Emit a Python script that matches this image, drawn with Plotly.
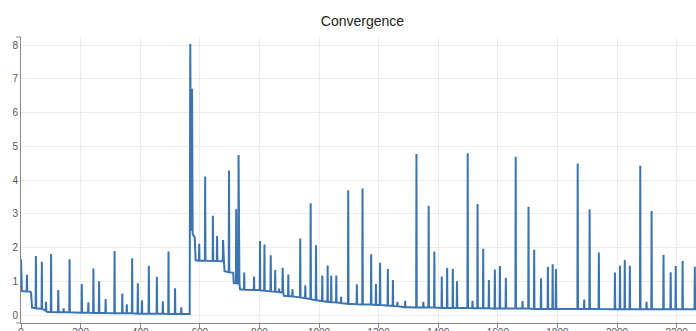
import plotly.graph_objects as go

# Slowly decaying baseline of the loss curve (knots joined by straight segments)
baseline_x = [0, 3, 32, 34, 37, 60, 78, 88, 200, 400, 566,
              568, 571, 574, 576, 583, 586, 676, 681, 683, 712, 714, 728, 733, 735,
              800, 876, 880, 882, 960, 1004, 1070, 1100, 1200, 1252, 1300, 1480,
              1600, 1800, 2270]
baseline_y = [1.65, 0.71, 0.69, 0.64, 0.22, 0.19, 0.15, 0.09, 0.07, 0.04, 0.03,
              8.03, 2.50, 6.70, 2.40, 2.30, 1.62, 1.59, 1.58, 1.30, 1.25, 0.95, 0.93, 0.92, 0.76,
              0.74, 0.67, 0.66, 0.57, 0.49, 0.42, 0.36, 0.33, 0.30, 0.27, 0.23, 0.21,
              0.19, 0.18, 0.17]

# Isolated spikes: position, peak value, and the baseline level around them
spike_x = [20, 50, 70, 84, 101, 125, 143, 163, 204, 226, 243, 262, 284, 314, 340,
           355, 373, 392, 406, 429, 456, 476, 495, 517, 538,
           598, 618, 644, 658, 678, 698, 722, 730, 749, 782, 802, 817, 838, 853,
           866, 878, 897, 911, 937, 954, 972, 990, 1011, 1029, 1041, 1058, 1074,
           1098, 1127, 1146, 1175, 1191, 1205, 1231, 1248, 1263, 1289, 1327, 1350,
           1368, 1387, 1412, 1430, 1449, 1463, 1499, 1515, 1532, 1551, 1570, 1590,
           1607, 1627, 1660, 1683, 1703, 1722, 1745, 1768, 1784, 1795, 1868, 1890,
           1908, 1939, 1993, 2010, 2026, 2043, 2078, 2099, 2116, 2156, 2180, 2197,
           2220, 2261]
spike_peak = [1.19, 1.75, 1.58, 0.39, 1.81, 0.74, 0.20, 1.65, 0.92, 0.38, 1.38, 1.00, 0.47, 1.90, 0.64,
              0.32, 1.68, 0.94, 0.44, 1.46, 1.13, 0.41, 1.88, 0.79, 0.23,
              2.11, 4.10, 2.94, 2.34, 2.22, 4.28, 3.13, 4.74, 1.26, 1.14, 2.19, 2.09, 1.77, 1.33,
              0.78, 1.40, 1.20, 0.76, 2.27, 0.88, 3.31, 2.07, 1.17, 1.47, 1.17, 1.17, 0.54,
              3.70, 0.91, 3.75, 1.80, 0.92, 1.55, 1.36, 1.04, 0.39, 0.42, 4.77, 0.39,
              3.24, 1.88, 1.14, 1.39, 1.37, 1.00, 4.79, 0.42, 3.29, 1.96, 1.04, 1.35,
              1.45, 1.10, 4.69, 0.41, 3.21, 1.93, 1.09, 1.43, 1.50, 1.36, 4.49, 0.46,
              3.13, 1.85, 1.26, 1.46, 1.63, 1.46, 4.42, 0.39, 3.08, 1.78, 1.27, 1.45,
              1.60, 1.43]
spike_floor = [0.70, 0.20, 0.18, 0.12, 0.09, 0.08, 0.08, 0.08, 0.07, 0.07, 0.06, 0.06, 0.06, 0.05, 0.05,
               0.05, 0.05, 0.04, 0.04, 0.04, 0.04, 0.04, 0.03, 0.03, 0.03,
               1.61, 1.61, 1.60, 1.60, 1.59, 1.27, 0.94, 0.93, 0.75, 0.74, 0.73, 0.72, 0.70, 0.69,
               0.68, 0.67, 0.56, 0.55, 0.52, 0.50, 0.47, 0.44, 0.41, 0.39, 0.38, 0.37, 0.35,
               0.33, 0.32, 0.31, 0.31, 0.30, 0.30, 0.28, 0.27, 0.26, 0.23, 0.22, 0.22,
               0.22, 0.22, 0.21, 0.21, 0.21, 0.21, 0.21, 0.20, 0.20, 0.20, 0.20, 0.19,
               0.19, 0.19, 0.19, 0.19, 0.19, 0.18, 0.18, 0.18, 0.18, 0.18, 0.18, 0.18,
               0.18, 0.18, 0.17, 0.17, 0.17, 0.17, 0.17, 0.17, 0.17, 0.17, 0.17, 0.17,
               0.17, 0.17]

x_ticks = [0, 200, 400, 600, 800, 1000, 1200, 1400, 1600, 1800, 2000, 2200]
y_ticks = [0, 1, 2, 3, 4, 5, 6, 7, 8]

# Merge baseline knots and spike vertices into one ordered path
points = list(zip(baseline_x, baseline_y))
for sx, peak, floor in zip(spike_x, spike_peak, spike_floor):
    points += [(sx - 1, floor), (sx, peak), (sx + 1, floor)]
points.sort(key=lambda p: p[0])
xs = [p[0] for p in points]
ys = [p[1] for p in points]

LINE = "#3b74b0"
AXIS = "#888888"
GRID = "#ececec"
FONT = "Liberation Sans, Arial, sans-serif"

fig = go.Figure(go.Scatter(x=xs, y=ys, mode="lines",
                           line=dict(color=LINE, width=2), hoverinfo="skip"))

plot_w = 696 - 21
tick_px = 5
fig.update_layout(
    width=696, height=331,
    margin=dict(l=21, r=0, t=37, b=8, pad=0, autoexpand=False),
    paper_bgcolor="white", plot_bgcolor="white",
    showlegend=False,
    font=dict(family=FONT, size=10, color="#555555"),
    title=dict(text="Convergence", font=dict(family=FONT, size=14, color="#222222"),
               x=362.5 / 696, xref="container", xanchor="center",
               y=1 - 21.5 / 331, yref="container", yanchor="middle"),
    xaxis=dict(range=[0, 2265], tickvals=x_ticks, showgrid=True, gridcolor=GRID,
               gridwidth=1, zeroline=False, showline=True, linecolor=AXIS, linewidth=1,
               ticks="outside", ticklen=4, tickcolor=AXIS, tickfont=dict(size=10),
               ticklabelstandoff=-4, automargin=False),
    yaxis=dict(range=[-0.237, 8.237], tickvals=y_ticks, showgrid=True, gridcolor=GRID,
               gridwidth=1, zeroline=False, showline=True, linecolor=AXIS, linewidth=1,
               ticks="", tickfont=dict(size=10), automargin=False),
    shapes=[
        # outer end ticks of the vertical axis
        dict(type="line", xref="paper", yref="paper", x0=-tick_px / plot_w, x1=0,
             y0=1, y1=1, line=dict(color=AXIS, width=1)),
        dict(type="line", xref="paper", yref="paper", x0=-tick_px / plot_w, x1=0,
             y0=0, y1=0, line=dict(color=AXIS, width=1)),
    ],
)

fig.write_html("out.html")
